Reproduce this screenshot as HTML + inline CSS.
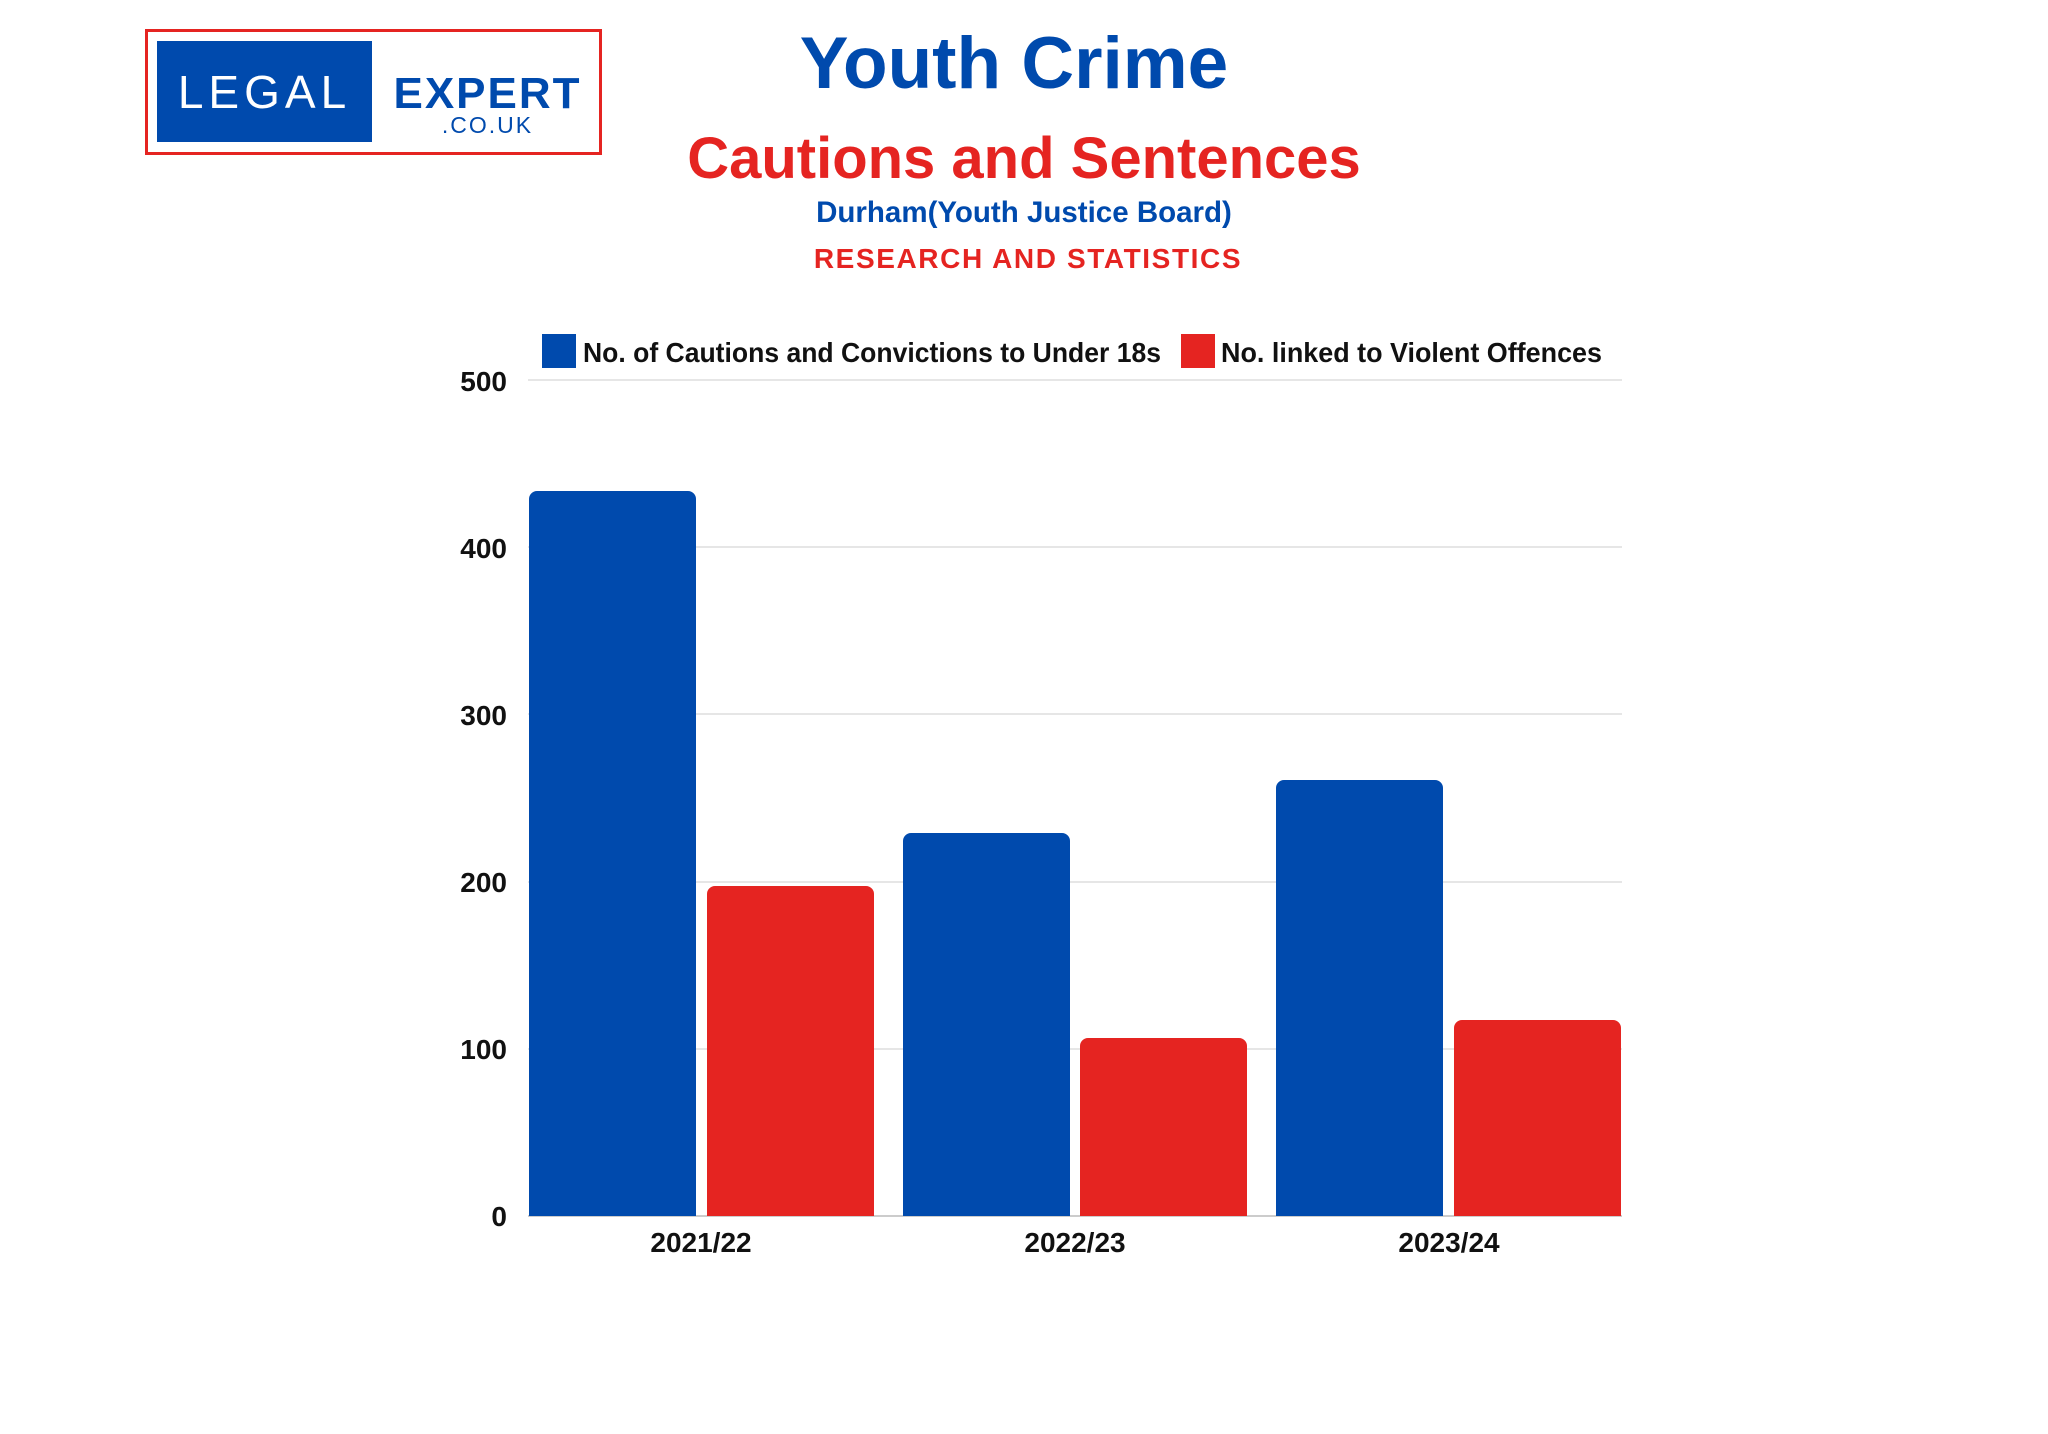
<!DOCTYPE html>
<html><head><meta charset="utf-8"><style>
html,body{margin:0;padding:0;background:#fff;}
body{width:2048px;height:1434px;position:relative;overflow:hidden;font-family:"Liberation Sans",sans-serif;}
.t{position:absolute;left:0;width:2048px;text-align:center;font-weight:bold;white-space:nowrap;}
</style></head><body>
<div style="position:absolute;left:145px;top:29px;width:451px;height:120px;border:3px solid #e52421;"></div>
<div style="position:absolute;left:157px;top:41px;width:215px;height:101px;background:#004aad;"></div>
<div style="position:absolute;left:157px;top:62px;width:215px;text-align:center;color:#fff;font-size:46px;letter-spacing:5px;line-height:60px;">LEGAL</div>
<div style="position:absolute;left:385px;top:68px;width:205px;text-align:center;color:#004aad;font-size:44px;font-weight:bold;line-height:52px;letter-spacing:2px;">EXPERT</div>
<div style="position:absolute;left:385px;top:112px;width:205px;text-align:center;color:#004aad;font-size:23px;letter-spacing:2px;line-height:26px;">.CO.UK</div>

<div class="t" style="left:-10px;top:20px;font-size:73px;color:#004aad;line-height:88px;">Youth Crime</div>
<div class="t" style="top:124px;font-size:58px;color:#e52421;line-height:70px;">Cautions and Sentences</div>
<div class="t" style="top:196px;font-size:29.5px;color:#004aad;line-height:34px;">Durham(Youth Justice Board)</div>
<div class="t" style="left:4px;top:242px;font-size:28px;color:#e52421;line-height:34px;letter-spacing:1.6px;">RESEARCH AND STATISTICS</div>

<svg width="2048" height="1434" style="position:absolute;left:0;top:0" font-family="Liberation Sans, sans-serif" font-weight="bold">
<g stroke="#e6e6e6" stroke-width="2">
<line x1="528" x2="1622" y1="380" y2="380"/>
<line x1="528" x2="1622" y1="547" y2="547"/>
<line x1="528" x2="1622" y1="714" y2="714"/>
<line x1="528" x2="1622" y1="882" y2="882"/>
<line x1="528" x2="1622" y1="1049" y2="1049"/>
<line x1="528" x2="1622" y1="1216" y2="1216" stroke="#ccc"/>
</g>
<g font-size="28" fill="#111" text-anchor="end">
<text x="507" y="391">500</text><text x="507" y="558">400</text><text x="507" y="725">300</text>
<text x="507" y="892">200</text><text x="507" y="1059">100</text><text x="507" y="1226">0</text>
</g>
<g fill="#004aad">
<path d="M529 1216V499a8 8 0 0 1 8-8h151a8 8 0 0 1 8 8V1216Z"/>
<path d="M903 1216V841a8 8 0 0 1 8-8h151a8 8 0 0 1 8 8V1216Z"/>
<path d="M1276 1216V788a8 8 0 0 1 8-8h151a8 8 0 0 1 8 8V1216Z"/>
</g>
<g fill="#e52421">
<path d="M707 1216V894a8 8 0 0 1 8-8h151a8 8 0 0 1 8 8V1216Z"/>
<path d="M1080 1216V1046a8 8 0 0 1 8-8h151a8 8 0 0 1 8 8V1216Z"/>
<path d="M1454 1216V1028a8 8 0 0 1 8-8h151a8 8 0 0 1 8 8V1216Z"/>
</g>
<g font-size="28" fill="#111" text-anchor="middle">
<text x="701" y="1252">2021/22</text><text x="1075" y="1252">2022/23</text><text x="1449" y="1252">2023/24</text>
</g>
<rect x="542" y="334" width="34" height="34" fill="#004aad"/>
<text x="583" y="362" font-size="28" fill="#111" textLength="578" lengthAdjust="spacingAndGlyphs">No. of Cautions and Convictions to Under 18s</text>
<rect x="1181" y="334" width="34" height="34" fill="#e52421"/>
<text x="1221" y="362" font-size="28" fill="#111" textLength="381" lengthAdjust="spacingAndGlyphs">No. linked to Violent Offences</text>
</svg>
</body></html>
